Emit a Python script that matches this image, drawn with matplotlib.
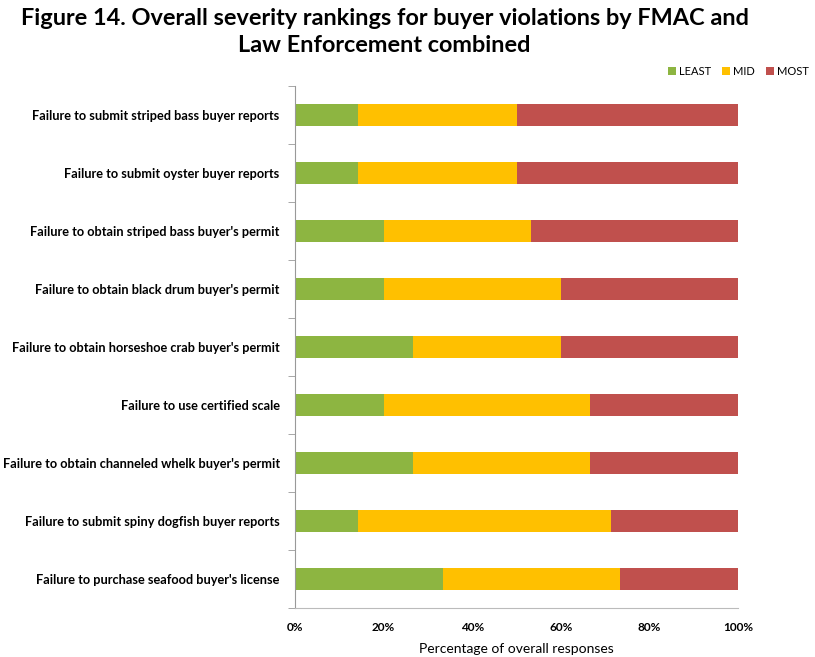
import numpy as np
import matplotlib.pyplot as plt
from matplotlib.ticker import PercentFormatter

plt.rcParams['font.family'] = ['Lato', 'DejaVu Sans']

# violations, top to bottom as in the figure
violations = [
    'Failure to submit striped bass buyer reports',
    'Failure to submit oyster buyer reports',
    "Failure to obtain striped bass buyer's permit",
    "Failure to obtain black drum buyer's permit",
    "Failure to obtain horseshoe crab buyer's permit",
    'Failure to use certified scale',
    "Failure to obtain channeled whelk buyer's permit",
    'Failure to submit spiny dogfish buyer reports',
    "Failure to purchase seafood buyer's license",
]
least = [14.3, 14.3, 20.0, 20.0, 26.7, 20.0, 26.7, 14.3, 33.3]
mid = [35.7, 35.7, 33.3, 40.0, 33.3, 46.7, 40.0, 57.1, 40.0]
most = [50.0, 50.0, 46.7, 40.0, 40.0, 33.3, 33.3, 28.6, 26.7]

fig = plt.figure(figsize=(8.15, 6.57), dpi=100)
ax = fig.add_axes([295/815, 1-608/657, 443/815, 522/657])

y = np.arange(len(violations))[::-1]
h = 0.39
left = np.zeros(len(violations))
for vals, col, name in [(least, '#8db541', 'LEAST'), (mid, '#ffc000', 'MID'), (most, '#c0504d', 'MOST')]:
    ax.barh(y, vals, left=left, height=h, color=col, label=name)
    left = left + np.array(vals)

ax.set_xlim(0, 100)
ax.set_ylim(-0.5, len(violations) - 0.5)
ax.set_yticks(y)
ax.set_yticklabels(violations, fontsize=9.2, fontweight='bold')
ax.set_yticks(np.arange(len(violations) + 1) - 0.5, minor=True)
ax.tick_params(axis='y', which='major', length=0, pad=11)
ax.tick_params(axis='y', which='minor', length=5, color='#999999', direction='out')
ax.xaxis.set_major_formatter(PercentFormatter(decimals=0))
ax.set_xticks(np.arange(0, 101, 20))
ax.tick_params(axis='x', length=0, labelsize=8.5, pad=10)
for t in ax.get_xticklabels():
    t.set_fontweight('bold')
ax.set_xlabel('Percentage of overall responses', fontsize=10, labelpad=7)

for s in ['top', 'right']:
    ax.spines[s].set_visible(False)
ax.spines['left'].set_color('#999999')
ax.spines['bottom'].set_color('#bbbbbb')

fig.text(0.472, 0.988, 'Figure 14. Overall severity rankings for buyer violations by FMAC and\nLaw Enforcement combined',
         ha='center', va='top', fontsize=16.9, fontweight='bold', linespacing=1.35)

fig.legend(loc='upper right', bbox_to_anchor=(1.005, 0.915), ncol=3, frameon=False,
           fontsize=8, handlelength=0.7, handleheight=0.7, handletextpad=0.3, columnspacing=1.0)

fig.savefig('out.png', dpi=100)
